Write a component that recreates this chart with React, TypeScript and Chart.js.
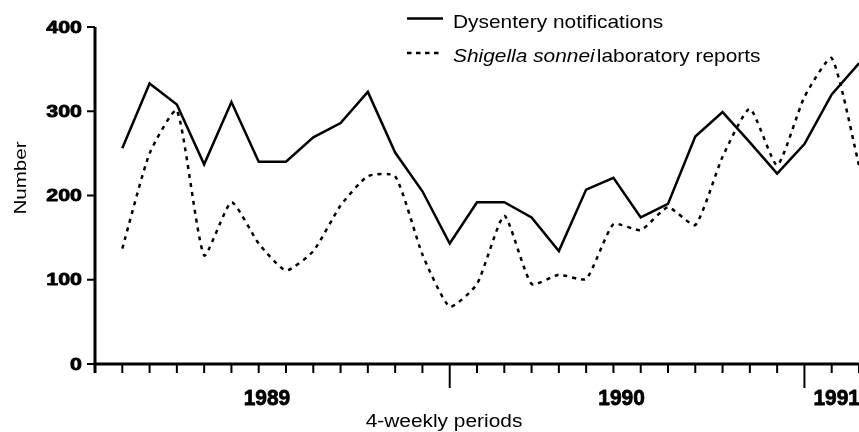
import React, { useEffect, useRef } from 'react';
import { Chart, registerables } from 'chart.js';

Chart.register(...registerables);

// 4-weekly period index (period 0 = start of 1989)
const periods = [1, 2, 3, 4, 5, 6, 7, 8, 9, 10, 11, 12, 13, 14, 15, 16, 17, 18, 19, 20, 21, 22, 23, 24, 25, 26, 27, 28];
const dysenteryNotifications = [256, 333, 308, 237, 311, 240, 240, 269, 286, 323, 251, 205, 143, 192, 192, 174, 134, 207, 221, 174, 190, 270, 299, 263, 226, 261, 320, 357];
const shigellaReports = [137, 250, 301, 129, 192, 143, 111, 134, 188, 223, 223, 130, 68, 95, 176, 95, 106, 101, 166, 159, 186, 165, 246, 303, 236, 317, 363, 236];
const yTicks = [0, 100, 200, 300, 400];
const periodTicks = [0, 1, 2, 3, 4, 5, 6, 7, 8, 9, 10, 11, 12, 13, 14, 15, 16, 17, 18, 19, 20, 21, 22, 23, 24, 25, 26, 27, 28];
const yearLabels = ['1989', '1990', '1991'];
const yearStarts = [0, 13, 26];
const legendLabels = ['Dysentery notifications', 'Shigella sonnei', 'laboratory reports'];
const xTitle = '4-weekly periods';
const yTitle = 'Number';

const SANS = '"Liberation Sans", Arial, Helvetica, sans-serif';

function drawText(ctx: CanvasRenderingContext2D, text: string, x: number, y: number, font: string, align: CanvasTextAlign, sx: number, baseline: CanvasTextBaseline = 'alphabetic', heavy = 0) {
  ctx.save();
  ctx.translate(x, y);
  ctx.scale(sx, 1);
  ctx.font = font;
  ctx.textAlign = align;
  ctx.textBaseline = baseline;
  ctx.fillText(text, 0, 0);
  if (heavy > 0) {
    ctx.lineWidth = heavy;
    ctx.lineJoin = 'round';
    ctx.strokeText(text, 0, 0);
  }
  ctx.restore();
}

const decorPlugin = {
  id: 'decor',
  afterDraw(chart: any) {
    const ctx: CanvasRenderingContext2D = chart.ctx;
    const xs = chart.scales.x;
    const ys = chart.scales.y;
    const x0 = xs.getPixelForValue(0);
    const yb = ys.getPixelForValue(0);
    const yt = ys.getPixelForValue(400);
    ctx.save();
    ctx.strokeStyle = '#000';
    ctx.fillStyle = '#000';
    ctx.setLineDash([]);

    // axes
    ctx.lineWidth = 3;
    ctx.beginPath();
    ctx.moveTo(x0, yt);
    ctx.lineTo(x0, yb + 9);
    ctx.stroke();
    ctx.beginPath();
    ctx.moveTo(x0 - 1.5, yb);
    ctx.lineTo(chart.width, yb);
    ctx.stroke();

    // y ticks + labels
    ctx.lineWidth = 2;
    yTicks.forEach((v) => {
      const py = ys.getPixelForValue(v);
      ctx.beginPath();
      ctx.moveTo(x0 - 8, py);
      ctx.lineTo(x0, py);
      ctx.stroke();
      drawText(ctx, String(v), 82, py + 1, `bold 17px ${SANS}`, 'right', 1.26, 'middle', 0.8);
    });

    // x ticks
    ctx.lineWidth = 2;
    periodTicks.forEach((p) => {
      const px = xs.getPixelForValue(p);
      const long = yearStarts.indexOf(p) > 0;
      ctx.beginPath();
      ctx.moveTo(px, yb);
      ctx.lineTo(px, yb + (long ? 24 : 9));
      ctx.stroke();
    });

    // year labels
    yearLabels.forEach((lab, i) => {
      const start = yearStarts[i];
      if (i < 2) {
        const px = xs.getPixelForValue(start + 6.3);
        drawText(ctx, lab, px, 405, `bold 22px ${SANS}`, 'center', 0.95, 'alphabetic', 0.8);
      } else {
        const px = xs.getPixelForValue(start) + 9;
        drawText(ctx, lab, px, 405, `bold 22px ${SANS}`, 'left', 0.95, 'alphabetic', 0.8);
      }
    });

    // axis titles
    drawText(ctx, xTitle, 444, 427, `18px ${SANS}`, 'center', 1.16);
    ctx.save();
    ctx.translate(25.5, 178);
    ctx.rotate(-Math.PI / 2);
    drawText(ctx, yTitle, 0, 0, `17px ${SANS}`, 'center', 1.21);
    ctx.restore();

    // legend
    ctx.lineWidth = 2.5;
    ctx.beginPath();
    ctx.moveTo(407, 18.5);
    ctx.lineTo(443, 18.5);
    ctx.stroke();
    drawText(ctx, legendLabels[0], 453, 28, `19px ${SANS}`, 'left', 1.1);

    ctx.setLineDash([4.5, 4.5]);
    ctx.beginPath();
    ctx.moveTo(407, 53);
    ctx.lineTo(443, 53);
    ctx.stroke();
    ctx.setLineDash([]);
    ctx.font = `italic 19px ${SANS}`;
    const w = ctx.measureText(legendLabels[1]).width * 1.1;
    drawText(ctx, legendLabels[1], 453, 62, `italic 19px ${SANS}`, 'left', 1.1);
    drawText(ctx, legendLabels[2], 453 + w + 2, 62, `19px ${SANS}`, 'left', 1.1);

    ctx.restore();
  },
};

export default function App() {
  const ref = useRef<HTMLCanvasElement>(null);
  useEffect(() => {
    document.body.style.margin = '0';
    if (!ref.current) return;
    const chart = new Chart(ref.current, {
      type: 'line',
      data: {
        datasets: [
          {
            label: legendLabels[0],
            data: periods.map((p, i) => ({ x: p, y: dysenteryNotifications[i] })),
            borderColor: '#000',
            borderWidth: 2.5,
            pointRadius: 0,
            tension: 0,
            fill: false,
          },
          {
            label: legendLabels[1] + ' ' + legendLabels[2],
            data: periods.map((p, i) => ({ x: p, y: shigellaReports[i] })),
            borderColor: '#000',
            borderWidth: 2.5,
            borderDash: [4, 5],
            pointRadius: 0,
            tension: 0.18,
            fill: false,
          },
        ],
      },
      options: {
        animation: false,
        responsive: false,
        maintainAspectRatio: false,
        layout: { padding: { left: 95, right: 0, top: 27, bottom: 68 } },
        plugins: { legend: { display: false }, tooltip: { enabled: false } },
        scales: {
          x: { type: 'linear', min: 0, max: 28, display: false },
          y: { type: 'linear', min: 0, max: 400, display: false },
        },
      },
      plugins: [decorPlugin],
    });
    return () => chart.destroy();
  }, []);
  return (
    <div style={{ width: 859, height: 432, background: '#fff' }}>
      <canvas ref={ref} width={859} height={432} style={{ display: 'block' }} />
    </div>
  );
}
